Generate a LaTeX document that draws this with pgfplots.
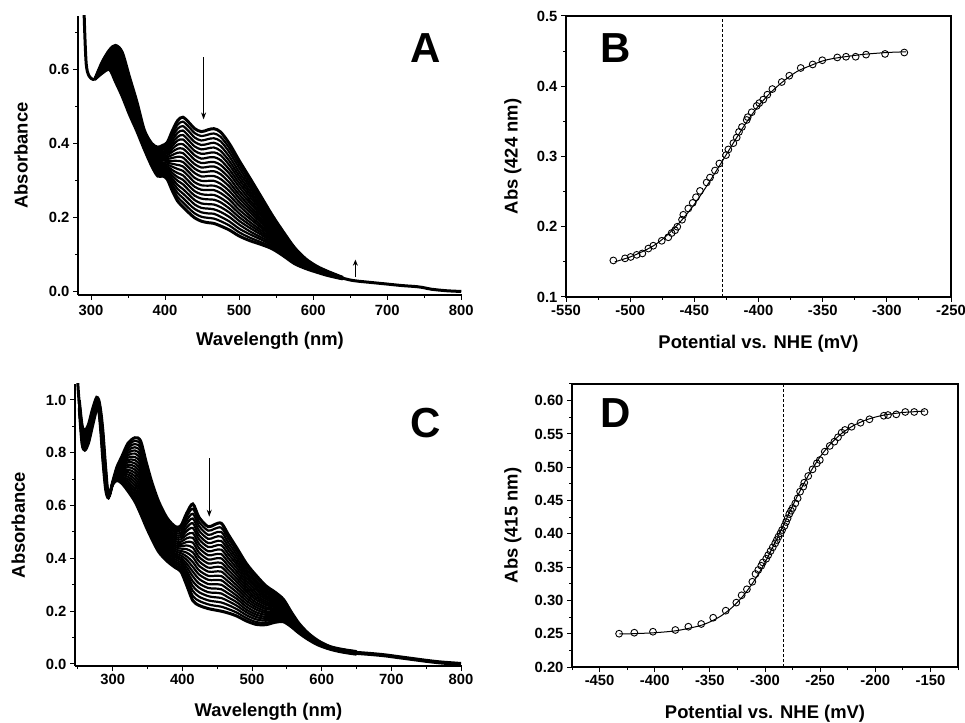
\documentclass[border=0pt]{standalone}
\usepackage{pgfplots}
\pgfplotsset{compat=1.18}
\usepackage{pgfplotstable}
\usepackage{fontspec}
\setmainfont{Liberation Sans}
\usetikzlibrary{arrows.meta}

\pgfplotsset{
  base/.style={
    scale only axis,
    anchor=south west,
    tick align=outside,
    tick pos=left,
    major tick length=5pt,
    minor tick length=3pt,
    tick style={black,line width=1pt},
    axis line style={line width=1.2pt,-},
    every outer x axis line/.append style={-},
    every outer y axis line/.append style={-},
    tick label style={font=\fontsize{14.8}{16}\selectfont\bfseries},
    /pgf/number format/assume math mode=true,
    label style={font=\fontsize{18.4}{20}\selectfont\bfseries, inner sep=0pt},
  },
  spec/.style={black, line width=2.2pt, smooth, tension=0.5, no marks},
  edge/.style={black, line width=3pt, smooth, tension=0.5, no marks},
}

% Panel A: spectra, column c0 = final (lowest), c20 = initial (highest)
\pgfplotstableread{
nm c0 c1 c2 c3 c4 c5 c6 c7 c8 c9 c10 c11 c12 c13 c14 c15 c16 c17 c18 c19 c20
305 0.573 0.573 0.573 0.573 0.573 0.573 0.573 0.573 0.573 0.573 0.573 0.573 0.573 0.573 0.573 0.573 0.573 0.573 0.573 0.573 0.573
315 0.590 0.592 0.593 0.595 0.596 0.598 0.599 0.601 0.602 0.604 0.605 0.607 0.608 0.610 0.611 0.613 0.614 0.616 0.617 0.619 0.620
325 0.600 0.603 0.605 0.608 0.611 0.613 0.616 0.619 0.621 0.624 0.627 0.629 0.632 0.634 0.637 0.640 0.642 0.645 0.648 0.650 0.653
333 0.567 0.572 0.577 0.582 0.587 0.592 0.596 0.601 0.606 0.611 0.616 0.621 0.626 0.631 0.636 0.641 0.645 0.650 0.655 0.660 0.665
342 0.528 0.534 0.540 0.546 0.552 0.558 0.564 0.570 0.576 0.582 0.588 0.593 0.599 0.605 0.611 0.617 0.623 0.629 0.635 0.641 0.647
352 0.478 0.483 0.488 0.493 0.498 0.503 0.508 0.513 0.518 0.523 0.529 0.534 0.539 0.544 0.549 0.554 0.559 0.564 0.569 0.574 0.579
362 0.433 0.437 0.441 0.445 0.449 0.453 0.457 0.461 0.465 0.469 0.473 0.476 0.480 0.484 0.488 0.492 0.496 0.500 0.504 0.508 0.512
372 0.384 0.387 0.389 0.392 0.394 0.397 0.400 0.402 0.405 0.407 0.410 0.413 0.415 0.418 0.420 0.423 0.426 0.428 0.431 0.433 0.436
382 0.339 0.342 0.345 0.348 0.351 0.354 0.357 0.360 0.363 0.366 0.370 0.373 0.376 0.379 0.382 0.385 0.388 0.391 0.394 0.397 0.400
390 0.312 0.316 0.320 0.324 0.328 0.332 0.335 0.339 0.343 0.347 0.351 0.355 0.359 0.363 0.367 0.371 0.374 0.378 0.382 0.386 0.390
397 0.312 0.316 0.320 0.324 0.329 0.333 0.337 0.341 0.345 0.349 0.354 0.358 0.362 0.366 0.370 0.374 0.378 0.383 0.387 0.391 0.395
403 0.303 0.308 0.313 0.318 0.323 0.328 0.333 0.338 0.343 0.348 0.353 0.358 0.363 0.368 0.373 0.378 0.383 0.388 0.393 0.398 0.403
410 0.271 0.279 0.287 0.296 0.304 0.312 0.320 0.328 0.337 0.345 0.353 0.361 0.369 0.378 0.386 0.394 0.402 0.410 0.419 0.427 0.435
417 0.244 0.255 0.266 0.277 0.288 0.299 0.309 0.320 0.331 0.342 0.353 0.364 0.375 0.386 0.397 0.408 0.418 0.429 0.440 0.451 0.462
424 0.229 0.241 0.253 0.265 0.277 0.290 0.302 0.314 0.326 0.338 0.350 0.362 0.374 0.386 0.398 0.411 0.423 0.435 0.447 0.459 0.471
432 0.213 0.225 0.237 0.250 0.262 0.274 0.286 0.298 0.311 0.323 0.335 0.347 0.359 0.372 0.384 0.396 0.408 0.420 0.433 0.445 0.457
440 0.199 0.211 0.223 0.235 0.247 0.259 0.271 0.283 0.295 0.307 0.320 0.332 0.344 0.356 0.368 0.380 0.392 0.404 0.416 0.428 0.440
449 0.190 0.202 0.214 0.226 0.238 0.251 0.263 0.275 0.287 0.299 0.311 0.323 0.335 0.347 0.359 0.372 0.384 0.396 0.408 0.420 0.432
458 0.186 0.199 0.211 0.224 0.236 0.249 0.261 0.274 0.286 0.299 0.312 0.324 0.337 0.349 0.362 0.374 0.387 0.399 0.412 0.424 0.437
466 0.184 0.197 0.210 0.222 0.235 0.248 0.261 0.274 0.286 0.299 0.312 0.325 0.338 0.350 0.363 0.376 0.389 0.402 0.414 0.427 0.440
475 0.177 0.190 0.202 0.215 0.228 0.241 0.253 0.266 0.279 0.291 0.304 0.317 0.329 0.342 0.355 0.368 0.380 0.393 0.406 0.418 0.431
487 0.166 0.178 0.189 0.201 0.213 0.224 0.236 0.248 0.259 0.271 0.283 0.294 0.306 0.318 0.329 0.341 0.352 0.364 0.376 0.387 0.399
500 0.150 0.160 0.170 0.181 0.191 0.201 0.211 0.221 0.232 0.242 0.252 0.262 0.272 0.283 0.293 0.303 0.313 0.323 0.334 0.344 0.354
515 0.137 0.145 0.154 0.162 0.171 0.179 0.187 0.196 0.204 0.213 0.221 0.229 0.238 0.246 0.255 0.263 0.271 0.280 0.288 0.297 0.305
530 0.127 0.133 0.140 0.146 0.153 0.159 0.165 0.172 0.178 0.185 0.191 0.197 0.204 0.210 0.217 0.223 0.229 0.236 0.242 0.249 0.255
545 0.115 0.120 0.124 0.129 0.133 0.138 0.142 0.147 0.151 0.156 0.160 0.165 0.169 0.174 0.178 0.183 0.187 0.192 0.196 0.201 0.205
560 0.096 0.099 0.102 0.106 0.109 0.112 0.115 0.118 0.122 0.125 0.128 0.131 0.134 0.138 0.141 0.144 0.147 0.150 0.154 0.157 0.160
575 0.075 0.077 0.079 0.081 0.084 0.086 0.088 0.090 0.092 0.094 0.097 0.099 0.101 0.103 0.105 0.107 0.109 0.112 0.114 0.116 0.118
590 0.062 0.063 0.065 0.066 0.067 0.069 0.070 0.071 0.072 0.074 0.075 0.076 0.078 0.079 0.080 0.082 0.083 0.084 0.085 0.087 0.088
605 0.052 0.053 0.054 0.054 0.055 0.056 0.057 0.058 0.058 0.059 0.060 0.061 0.062 0.062 0.063 0.064 0.065 0.066 0.066 0.067 0.068
620 0.043 0.044 0.044 0.045 0.045 0.046 0.046 0.047 0.047 0.048 0.049 0.049 0.050 0.050 0.051 0.051 0.052 0.052 0.053 0.053 0.054
640 0.034 0.034 0.034 0.035 0.035 0.035 0.035 0.035 0.036 0.036 0.036 0.036 0.036 0.037 0.037 0.037 0.037 0.037 0.038 0.038 0.038
}\tabA

% Panel C: spectra
\pgfplotstableread{
nm c0 c1 c2 c3 c4 c5 c6 c7 c8 c9 c10 c11 c12 c13 c14 c15 c16 c17 c18 c19 c20
252 0.970 0.972 0.973 0.975 0.976 0.978 0.979 0.981 0.982 0.984 0.985 0.987 0.988 0.990 0.991 0.993 0.994 0.996 0.997 0.999 1.000
256 0.835 0.839 0.842 0.846 0.849 0.853 0.856 0.860 0.863 0.867 0.870 0.874 0.877 0.881 0.884 0.888 0.891 0.895 0.898 0.902 0.905
260 0.810 0.814 0.818 0.821 0.825 0.829 0.833 0.836 0.840 0.844 0.848 0.851 0.855 0.859 0.863 0.866 0.870 0.874 0.878 0.881 0.885
265 0.835 0.839 0.842 0.846 0.849 0.853 0.856 0.860 0.863 0.867 0.870 0.874 0.877 0.881 0.884 0.888 0.891 0.895 0.898 0.902 0.905
270 0.890 0.893 0.897 0.900 0.903 0.906 0.910 0.913 0.916 0.919 0.923 0.926 0.929 0.932 0.936 0.939 0.942 0.945 0.949 0.952 0.955
274 0.935 0.938 0.941 0.943 0.946 0.949 0.952 0.954 0.957 0.960 0.963 0.965 0.968 0.971 0.974 0.976 0.979 0.982 0.985 0.987 0.990
277 0.965 0.967 0.970 0.972 0.974 0.976 0.979 0.981 0.983 0.985 0.988 0.990 0.992 0.994 0.997 0.999 1.001 1.003 1.006 1.008 1.010
280 0.960 0.962 0.964 0.966 0.968 0.970 0.972 0.974 0.976 0.978 0.980 0.982 0.984 0.986 0.988 0.990 0.992 0.994 0.996 0.998 1.000
283 0.880 0.884 0.888 0.891 0.895 0.899 0.903 0.906 0.910 0.914 0.918 0.921 0.925 0.929 0.933 0.936 0.940 0.944 0.948 0.951 0.955
286 0.770 0.776 0.781 0.787 0.792 0.798 0.803 0.809 0.814 0.820 0.825 0.831 0.836 0.842 0.847 0.853 0.858 0.864 0.869 0.875 0.880
290 0.660 0.664 0.668 0.672 0.676 0.680 0.684 0.688 0.692 0.696 0.700 0.704 0.708 0.712 0.716 0.720 0.724 0.728 0.732 0.736 0.740
294 0.630 0.630 0.631 0.631 0.631 0.631 0.632 0.632 0.632 0.632 0.633 0.633 0.633 0.633 0.634 0.634 0.634 0.634 0.635 0.635 0.635
300 0.680 0.681 0.681 0.682 0.682 0.683 0.683 0.684 0.684 0.685 0.685 0.686 0.686 0.687 0.687 0.688 0.688 0.689 0.689 0.690 0.690
306 0.695 0.698 0.700 0.703 0.705 0.708 0.710 0.713 0.715 0.718 0.720 0.723 0.725 0.728 0.730 0.733 0.735 0.738 0.740 0.743 0.745
313 0.685 0.690 0.695 0.700 0.705 0.710 0.715 0.720 0.725 0.730 0.735 0.740 0.745 0.750 0.755 0.760 0.765 0.770 0.775 0.780 0.785
322 0.655 0.664 0.673 0.682 0.691 0.700 0.709 0.718 0.727 0.736 0.746 0.755 0.764 0.773 0.782 0.791 0.800 0.809 0.818 0.827 0.836
332 0.615 0.627 0.639 0.651 0.663 0.676 0.688 0.700 0.712 0.724 0.736 0.748 0.760 0.772 0.784 0.797 0.809 0.821 0.833 0.845 0.857
340 0.570 0.584 0.598 0.611 0.625 0.639 0.653 0.666 0.680 0.694 0.708 0.721 0.735 0.749 0.763 0.776 0.790 0.804 0.818 0.831 0.845
348 0.520 0.532 0.545 0.557 0.569 0.581 0.594 0.606 0.618 0.630 0.643 0.655 0.667 0.679 0.692 0.704 0.716 0.728 0.741 0.753 0.765
356 0.475 0.486 0.497 0.507 0.518 0.529 0.540 0.550 0.561 0.572 0.583 0.593 0.604 0.615 0.626 0.636 0.647 0.658 0.669 0.679 0.690
366 0.425 0.435 0.444 0.454 0.463 0.473 0.482 0.492 0.501 0.511 0.520 0.530 0.539 0.549 0.558 0.568 0.577 0.587 0.596 0.606 0.615
378 0.390 0.398 0.406 0.414 0.423 0.431 0.439 0.447 0.455 0.463 0.472 0.480 0.488 0.496 0.504 0.512 0.520 0.529 0.537 0.545 0.553
390 0.365 0.373 0.381 0.388 0.396 0.404 0.412 0.419 0.427 0.435 0.443 0.450 0.458 0.466 0.474 0.481 0.489 0.497 0.505 0.512 0.520
398 0.350 0.359 0.367 0.376 0.385 0.394 0.402 0.411 0.420 0.428 0.437 0.446 0.454 0.463 0.472 0.481 0.489 0.498 0.507 0.515 0.524
406 0.300 0.314 0.327 0.341 0.354 0.368 0.381 0.395 0.408 0.422 0.435 0.449 0.462 0.476 0.489 0.503 0.516 0.530 0.543 0.557 0.570
415 0.240 0.258 0.277 0.295 0.313 0.332 0.350 0.368 0.386 0.405 0.423 0.441 0.460 0.478 0.496 0.515 0.533 0.551 0.569 0.588 0.606
424 0.222 0.239 0.255 0.272 0.289 0.305 0.322 0.339 0.355 0.372 0.389 0.405 0.422 0.439 0.455 0.472 0.488 0.505 0.522 0.538 0.555
437 0.210 0.226 0.241 0.257 0.272 0.288 0.303 0.319 0.334 0.350 0.365 0.381 0.396 0.412 0.427 0.443 0.458 0.474 0.489 0.505 0.520
446 0.205 0.221 0.237 0.253 0.270 0.286 0.302 0.318 0.334 0.350 0.367 0.383 0.399 0.415 0.431 0.447 0.463 0.480 0.496 0.512 0.528
456 0.200 0.217 0.233 0.250 0.267 0.283 0.300 0.317 0.333 0.350 0.367 0.383 0.400 0.416 0.433 0.450 0.466 0.483 0.500 0.516 0.533
466 0.193 0.208 0.223 0.238 0.252 0.267 0.282 0.297 0.312 0.327 0.342 0.356 0.371 0.386 0.401 0.416 0.431 0.445 0.460 0.475 0.490
478 0.182 0.195 0.208 0.221 0.234 0.247 0.259 0.272 0.285 0.298 0.311 0.324 0.337 0.350 0.363 0.376 0.388 0.401 0.414 0.427 0.440
492 0.163 0.174 0.185 0.196 0.206 0.217 0.228 0.239 0.250 0.261 0.272 0.282 0.293 0.304 0.315 0.326 0.337 0.347 0.358 0.369 0.380
506 0.150 0.159 0.169 0.178 0.187 0.196 0.206 0.215 0.224 0.233 0.243 0.252 0.261 0.270 0.280 0.289 0.298 0.307 0.316 0.326 0.335
520 0.149 0.156 0.164 0.171 0.178 0.186 0.193 0.200 0.208 0.215 0.223 0.230 0.237 0.245 0.252 0.259 0.267 0.274 0.281 0.289 0.296
533 0.158 0.164 0.169 0.175 0.181 0.187 0.192 0.198 0.204 0.209 0.215 0.221 0.226 0.232 0.238 0.244 0.249 0.255 0.261 0.266 0.272
545 0.160 0.164 0.169 0.173 0.177 0.181 0.186 0.190 0.194 0.198 0.203 0.207 0.211 0.215 0.220 0.224 0.228 0.232 0.236 0.241 0.245
556 0.142 0.145 0.148 0.150 0.153 0.156 0.159 0.162 0.164 0.167 0.170 0.173 0.176 0.178 0.181 0.184 0.187 0.190 0.192 0.195 0.198
567 0.118 0.120 0.122 0.124 0.125 0.127 0.129 0.131 0.133 0.135 0.137 0.138 0.140 0.142 0.144 0.146 0.148 0.149 0.151 0.153 0.155
580 0.094 0.095 0.096 0.098 0.099 0.100 0.101 0.102 0.104 0.105 0.106 0.107 0.108 0.110 0.111 0.112 0.113 0.114 0.116 0.117 0.118
595 0.072 0.073 0.074 0.074 0.075 0.076 0.077 0.078 0.078 0.079 0.080 0.081 0.082 0.082 0.083 0.084 0.085 0.086 0.086 0.087 0.088
612 0.056 0.057 0.057 0.058 0.058 0.059 0.059 0.060 0.060 0.061 0.061 0.062 0.062 0.063 0.063 0.064 0.064 0.065 0.065 0.066 0.066
630 0.045 0.046 0.046 0.047 0.047 0.048 0.048 0.049 0.049 0.050 0.050 0.051 0.051 0.052 0.052 0.053 0.053 0.054 0.054 0.055 0.055
650 0.037 0.038 0.038 0.039 0.039 0.040 0.040 0.041 0.041 0.042 0.042 0.043 0.043 0.044 0.044 0.045 0.045 0.046 0.046 0.047 0.047
}\tabC

\begin{document}
\begin{tikzpicture}[x=1pt,y=1pt]
\useasboundingbox (0,0) rectangle (965,722);

% ---------------- A ----------------
\begin{axis}[base, at={(78pt,427pt)}, width=384pt, height=279pt,
  xmin=282.4, xmax=801, ymin=-0.0095, ymax=0.7446,
  axis x line*=bottom, axis y line*=left,
  xtick={300,400,...,800}, minor xtick={350,450,...,750},
  ytick={0,0.2,0.4,0.6}, minor ytick={0.1,0.3,0.5,0.7},
  yticklabel style={/pgf/number format/.cd,fixed,fixed zerofill,precision=1},
  xticklabel style={yshift=-2pt},
  xlabel={Wavelength (nm)}, ylabel={Absorbance},
  xlabel style={at={(rel axis cs:0.5,-0.133)}, anchor=north},
  ylabel style={at={(rel axis cs:-0.148,0.5)}, anchor=center},
]
\addplot[edge] coordinates {(290.5,0.76) (291.5,0.70) (292.5,0.65) (293.5,0.615) (295,0.595) (297.5,0.582) (300,0.576) (303,0.573) (305,0.573)};
\pgfplotsinvokeforeach{2,...,20}{\addplot[spec] table[x index=0,y index=#1]{\tabA};}
\addplot[edge] table[x index=0,y index=1]{\tabA};
\addplot[edge] table[x index=0,y index=21]{\tabA};
\addplot[edge] coordinates {(640,0.036) (650,0.031) (660,0.028) (680,0.024) (700,0.020) (720,0.016) (740,0.013) (750,0.010) (760,0.006) (780,0.002) (800,0.000)};
\draw[line width=1pt,-{Stealth[length=7pt,width=5pt]}] (axis cs:452,0.633) -- (axis cs:452,0.465);
\draw[line width=1pt,-{Stealth[length=6pt,width=5pt]}] (axis cs:657,0.039) -- (axis cs:657,0.086);
\node[font=\fontsize{42}{44}\selectfont\bfseries, inner sep=0pt] at (rel axis cs:0.906,0.884) {A};
\end{axis}

% ---------------- B ----------------
\begin{axis}[base, at={(566pt,425pt)}, width=385pt, height=281pt,
  xmin=-550, xmax=-250, ymin=0.1, ymax=0.5,
  xtick={-550,-500,...,-250}, minor xtick={-525,-475,...,-275},
  ytick={0.1,0.2,...,0.5}, minor ytick={0.15,0.25,...,0.45},
  yticklabel style={/pgf/number format/.cd,fixed,fixed zerofill,precision=1},
  xlabel={Potential vs. NHE (mV)}, ylabel={Abs (424 nm)},
  xlabel style={at={(rel axis cs:0.5,-0.135)}, anchor=north},
  ylabel style={at={(rel axis cs:-0.138,0.5)}, anchor=center},
]
\addplot[black, line width=1pt, dash pattern=on 3pt off 2pt] coordinates {(-428,0.1) (-428,0.5)};
\addplot[black, line width=1pt, smooth] coordinates {(-512,0.150) (-500,0.157) (-490,0.165) (-480,0.175) (-470,0.190) (-460,0.209) (-450,0.232) (-440,0.259) (-430,0.288) (-420,0.318) (-410,0.347) (-400,0.372) (-390,0.392) (-380,0.408) (-370,0.421) (-360,0.429) (-350,0.436) (-340,0.440) (-320,0.445) (-300,0.448) (-285,0.449)};
\addplot[only marks, mark=o, mark size=3.4pt, black, mark options={line width=0.9pt}] coordinates {
(-513.1,0.152) (-504,0.155) (-499.6,0.157) (-494.9,0.160) (-490.5,0.162) (-485.8,0.169) (-482,0.173) (-475.4,0.180) (-470.3,0.185) (-467.7,0.191) (-465,0.195) (-463.3,0.200) (-459.6,0.210) (-458.6,0.217) (-454.7,0.226) (-451.3,0.234) (-448.7,0.242) (-445.6,0.251) (-440.4,0.263) (-437.8,0.270) (-433.9,0.280) (-430.5,0.290) (-425.3,0.302) (-423.5,0.310) (-419.6,0.319) (-417,0.327) (-415.2,0.335) (-412.9,0.342) (-409.2,0.352) (-408.4,0.356) (-405.3,0.363) (-401.4,0.372) (-399.4,0.376) (-396.3,0.381) (-393.1,0.388) (-389.2,0.396) (-381.9,0.406) (-376,0.415) (-367.1,0.426) (-357.8,0.431) (-350.3,0.437) (-338.6,0.441) (-331.8,0.442) (-324.3,0.442) (-316.2,0.445) (-301.4,0.446) (-286.4,0.448)};
\node[font=\fontsize{42}{44}\selectfont\bfseries, inner sep=0pt] at (rel axis cs:0.130,0.886) {B};
\end{axis}

% ---------------- C ----------------
\begin{axis}[base, at={(75pt,56pt)}, width=387pt, height=282pt,
  xmin=245.9, xmax=801.4, ymin=-0.0076, ymax=1.0606,
  axis x line*=bottom, axis y line*=left,
  xtick={300,400,...,800}, minor xtick={250,350,...,750},
  ytick={0,0.2,...,1.0}, minor ytick={0.1,0.3,...,0.9},
  yticklabel style={/pgf/number format/.cd,fixed,fixed zerofill,precision=1},
  xlabel={Wavelength (nm)}, ylabel={Absorbance},
  xlabel style={at={(rel axis cs:0.5,-0.131)}, anchor=north},
  ylabel style={at={(rel axis cs:-0.1465,0.5)}, anchor=center},
]
\addplot[edge] coordinates {(248.5,1.15) (250,1.06) (252,0.985)};
\pgfplotsinvokeforeach{2,...,20}{\addplot[spec] table[x index=0,y index=#1]{\tabC};}
\addplot[edge] table[x index=0,y index=1]{\tabC};
\addplot[edge] table[x index=0,y index=21]{\tabC};
\addplot[black, line width=4pt, smooth, tension=0.5] coordinates {(650,0.042) (670,0.038) (690,0.033) (710,0.026) (730,0.019) (750,0.012) (770,0.006) (790,0.002) (800,0.000)};
\draw[line width=1pt,-{Stealth[length=7pt,width=5pt]}] (axis cs:438.6,0.779) -- (axis cs:438.6,0.558);
\node[font=\fontsize{42}{44}\selectfont\bfseries, inner sep=0pt] at (rel axis cs:0.907,0.863) {C};
\end{axis}

% ---------------- D ----------------
\begin{axis}[base, at={(572pt,55pt)}, width=386pt, height=283pt,
  xmin=-475, xmax=-125, ymin=0.2, ymax=0.625,
  xtick={-450,-400,...,-150}, minor xtick={-475,-425,...,-125},
  ytick={0.20,0.25,...,0.60}, minor ytick={0.225,0.275,...,0.625},
  yticklabel style={/pgf/number format/.cd,fixed,fixed zerofill,precision=2},
  xlabel={Potential vs. NHE (mV)}, ylabel={Abs (415 nm)},
  xlabel style={at={(rel axis cs:0.5,-0.134)}, anchor=north},
  ylabel style={at={(rel axis cs:-0.153,0.5)}, anchor=center},
]
\addplot[black, line width=1pt, dash pattern=on 3pt off 2pt] coordinates {(-283,0.2) (-283,0.625)};
\addplot[black, line width=1pt, smooth] coordinates {(-432,0.2496) (-420,0.250) (-400,0.2515) (-380,0.2546) (-360,0.2616) (-350,0.2677) (-340,0.2766) (-330,0.2892) (-320,0.3064) (-310,0.329) (-300,0.357) (-290,0.3897) (-280,0.4245) (-270,0.4588) (-260,0.4897) (-250,0.5157) (-240,0.5361) (-230,0.5514) (-220,0.5623) (-210,0.570) (-200,0.5753) (-190,0.5789) (-175,0.5822) (-155,0.5843)};
\addplot[only marks, mark=o, mark size=3.4pt, black, mark options={line width=0.9pt}] coordinates {
(-432.3,0.250) (-418.5,0.2515) (-401.6,0.253) (-381.3,0.2556) (-369.5,0.2605) (-357.8,0.2646) (-347,0.274) (-335.6,0.2846) (-326,0.2967) (-321.2,0.3077) (-316.4,0.3167) (-311.5,0.328) (-308.6,0.3397) (-306.1,0.3457) (-303.4,0.352) (-302,0.357) (-298.9,0.3626) (-297.1,0.368) (-295,0.374) (-293,0.3797) (-290.8,0.3857) (-289.3,0.3907) (-287.8,0.3957) (-286,0.4007) (-284.5,0.4057) (-282.4,0.4117) (-280.9,0.4177) (-279.5,0.4233) (-278,0.4297) (-276.4,0.4347) (-274.9,0.4389) (-272.5,0.4458) (-270.4,0.4533) (-268.2,0.4633) (-265.3,0.4708) (-264.4,0.4768) (-260.8,0.4868) (-256.9,0.4968) (-253,0.5059) (-250.3,0.5108) (-245.8,0.5234) (-241.3,0.532) (-237.1,0.5384) (-233.8,0.545) (-230.5,0.552) (-227.5,0.556) (-221.5,0.5608) (-213.4,0.5668) (-205.3,0.572) (-192.3,0.5773) (-188.5,0.5784) (-181,0.5794) (-172.8,0.583) (-164.7,0.583) (-155.4,0.583)};
\node[font=\fontsize{42}{44}\selectfont\bfseries, inner sep=0pt] at (rel axis cs:0.114,0.899) {D};
\end{axis}
\end{tikzpicture}
\end{document}
